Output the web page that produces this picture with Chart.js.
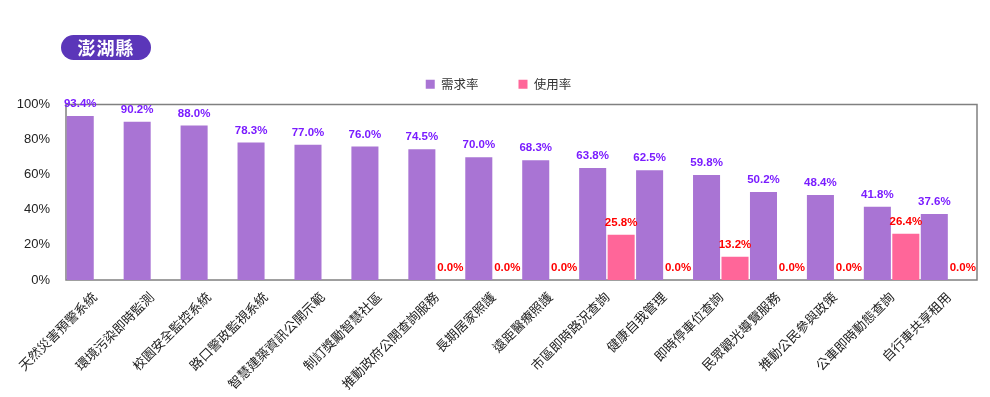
<!DOCTYPE html>
<html>
<head>
<meta charset="utf-8">
<script src="https://cdn.jsdelivr.net/npm/chart.js@4"></script>
<style>
  html, body { margin: 0; padding: 0; background: #fff; }
  #wrap { position: relative; width: 990px; height: 397px; }
  #title {
    position: absolute; left: 61px; top: 35px; width: 90px; height: 25px;
    border-radius: 13px; background: #5b36b9; color: #fff;
    font: bold 18px "Noto Sans CJK TC", sans-serif; line-height: 25px;
    text-align: center; letter-spacing: 1px;
  }
  canvas { position: absolute; left: 0; top: 0; }
</style>
</head>
<body>
<div id="wrap">
  <canvas id="c" width="990" height="397"></canvas>
  <div id="title">澎湖縣</div>
</div>
<script>
const categories = ['天然災害預警系統','環境污染即時監測','校園安全監控系統','路口警政監視系統','智慧建築資訊公開示範','制訂獎勵智慧社區','推動政府公開查詢服務','長期居家照護','遠距醫療照護','市區即時路況查詢','健康自我管理','即時停車位查詢','民眾觀光導覽服務','推動公民參與政策','公車即時動態查詢','自行車共享租用'];
const seriesNames = ['需求率','使用率'];
const demandRate = [93.4, 90.2, 88.0, 78.3, 77.0, 76.0, 74.5, 70.0, 68.3, 63.8, 62.5, 59.8, 50.2, 48.4, 41.8, 37.6];
const usageRate = [null, null, null, null, null, null, 0.0, 0.0, 0.0, 25.8, 0.0, 13.2, 0.0, 0.0, 26.4, 0.0];
const yTicks = [0, 20, 40, 60, 80, 100];

const labelColors = ['#7a1cff', '#ff0000'];

const legendTweakPlugin = {
  id: 'legendTweak',
  afterInit(chart) {
    const lg = chart.legend;
    if (!lg) return;
    const origFit = lg.fit;
    lg.fit = function () { origFit.call(this); this.height += 4; };
    const origDraw = lg.draw;
    lg.draw = function () {
      const c = this.ctx;
      c.save();
      c.translate(10, 0);
      origDraw.call(this);
      c.restore();
    };
  }
};

const boxPlugin = {
  id: 'boxPlugin',
  beforeDatasetsDraw(chart) {
    const a = chart.chartArea, ctx = chart.ctx;
    ctx.save();
    ctx.strokeStyle = '#808080';
    ctx.lineWidth = 1.5;
    ctx.strokeRect(a.left, a.top, a.right - a.left, a.bottom - a.top);
    ctx.restore();
  }
};

const labelPlugin = {
  id: 'labelPlugin',
  afterDatasetsDraw(chart) {
    const ctx = chart.ctx;
    ctx.save();
    ctx.font = 'bold 11.5px "Liberation Sans", Arial, sans-serif';
    ctx.textAlign = 'center';
    ctx.textBaseline = 'middle';
    chart.data.datasets.forEach((ds, di) => {
      const meta = chart.getDatasetMeta(di);
      meta.data.forEach((bar, i) => {
        const v = ds.data[i];
        if (v === null || v === undefined) return;
        ctx.fillStyle = labelColors[di];
        ctx.fillText(v.toFixed(1) + '%', bar.x, bar.y - 12);
      });
    });
    ctx.restore();
  }
};

new Chart(document.getElementById('c'), {
  type: 'bar',
  data: {
    labels: categories,
    datasets: [
      { label: seriesNames[0], data: demandRate, backgroundColor: '#a974d4', barPercentage: 0.95, categoryPercentage: 1.0 },
      { label: seriesNames[1], data: usageRate, backgroundColor: '#ff6699', barPercentage: 0.95, categoryPercentage: 1.0 }
    ]
  },
  options: {
    responsive: false,
    animation: false,
    layout: { padding: { left: 0, right: 13, top: 38, bottom: 0 } },
    plugins: {
      legend: {
        position: 'top',
        labels: {
          boxWidth: 9, boxHeight: 9, padding: 40,
          color: '#333',
          font: { family: '"Noto Sans CJK TC", sans-serif', size: 12.5 }
        }
      },
      tooltip: { enabled: false }
    },
    scales: {
      x: {
        grid: { display: false, drawTicks: false },
        border: { display: false },
        ticks: {
          autoSkip: false, maxRotation: 45, minRotation: 45, padding: 9,
          color: '#222',
          font: { family: '"Noto Sans CJK TC", sans-serif', size: 13 }
        },
        afterFit(scale) { scale.height = 117; }
      },
      y: {
        min: 0, max: 100,
        grid: { display: false, drawTicks: false },
        border: { display: false },
        afterBuildTicks(scale) { scale.ticks = yTicks.map(v => ({ value: v })); },
        ticks: {
          padding: 16, color: '#222',
          font: { family: '"Liberation Sans", Arial, sans-serif', size: 13 },
          callback: v => v + '%'
        },
        afterFit(scale) { scale.width = 66; }
      }
    }
  },
  plugins: [legendTweakPlugin, boxPlugin, labelPlugin]
});
</script>
</body>
</html>
